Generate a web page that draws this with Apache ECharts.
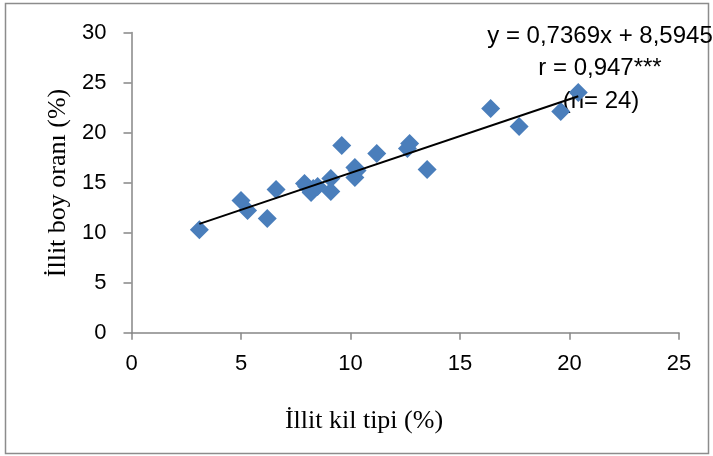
<!DOCTYPE html>
<html>
<head>
<meta charset="utf-8">
<script src="https://cdn.jsdelivr.net/npm/echarts@6/dist/echarts.min.js"></script>
<style>
  html, body { margin: 0; padding: 0; background: #fff; }
  #chart { width: 713px; height: 456px; }
</style>
</head>
<body>
<div id="chart"></div>
<script>
// İllit kil tipi (%) vs İllit boy oranı (%)
const illitKil = [3.1, 5.0, 5.3, 6.2, 6.6, 7.9, 8.0, 8.2, 8.3, 8.5, 9.1, 9.1, 9.6, 10.2, 10.2, 10.3, 11.2, 12.6, 12.7, 13.5, 16.4, 17.7, 19.6, 20.4];
const illitBoy = [10.3, 13.2, 12.2, 11.4, 14.3, 14.9, 14.6, 14.0, 14.4, 14.6, 15.4, 14.1, 18.7, 16.5, 15.5, 16.2, 17.9, 18.4, 18.9, 16.3, 22.4, 20.6, 22.1, 24.0];

// Linear trend: y = 0,7369x + 8,5945
const slope = 0.7369;
const intercept = 8.5945;
const statLines = ['y = 0,7369x + 8,5945', 'r = 0,947***', '(n= 24)'];

const xTicks = [0, 5, 10, 15, 20, 25];
const yTicks = [0, 5, 10, 15, 20, 25, 30];

const points = illitKil.map((x, i) => [x, illitBoy[i]]);
const xMin = Math.min(...illitKil);
const xMax = Math.max(...illitKil);
const trend = [[xMin, slope * xMin + intercept], [xMax, slope * xMax + intercept]];

const axisGrey = '#868686';
const sansFont = '"Liberation Sans Narrow", "Liberation Sans", sans-serif';
const chart = echarts.init(document.getElementById('chart'), null, { renderer: 'canvas' });

chart.setOption({
  backgroundColor: '#ffffff',
  animation: false,
  grid: { left: 131.5, right: 34, top: 32.5, bottom: 123.3, containLabel: false },
  xAxis: {
    type: 'value',
    min: xTicks[0],
    max: xTicks[xTicks.length - 1],
    interval: 5,
    axisLine: { show: true, onZero: false, lineStyle: { color: axisGrey, width: 1.5 } },
    axisTick: { show: true, inside: false, length: 7, lineStyle: { color: axisGrey, width: 1.5 } },
    splitLine: { show: false },
    axisLabel: { margin: 20, fontFamily: sansFont, fontSize: 22, color: '#000' }
  },
  yAxis: {
    type: 'value',
    min: yTicks[0],
    max: yTicks[yTicks.length - 1],
    interval: 5,
    axisLine: { show: true, onZero: false, lineStyle: { color: axisGrey, width: 1.5 } },
    axisTick: { show: true, inside: false, length: 8, lineStyle: { color: axisGrey, width: 1.5 } },
    splitLine: { show: false },
    axisLabel: { margin: 25, fontFamily: sansFont, fontSize: 22, color: '#000' }
  },
  series: [
    {
      type: 'scatter',
      data: points,
      symbol: 'diamond',
      symbolSize: [19, 19],
      itemStyle: { color: '#4A7EBB', opacity: 1 },
      z: 2
    },
    {
      type: 'line',
      data: trend,
      symbol: 'none',
      lineStyle: { color: '#000', width: 2 },
      z: 3
    }
  ],
  graphic: [
    {
      type: 'rect',
      shape: { x: 5.5, y: 3.5, width: 703, height: 450 },
      style: { fill: 'none', stroke: '#8c8c8c', lineWidth: 1.5 },
      silent: true
    },
    {
      type: 'text',
      x: 600, y: 36,
      style: {
        text: statLines[0], textAlign: 'center', textVerticalAlign: 'middle',
        fontFamily: sansFont, fontSize: 24, fill: '#000'
      }
    },
    {
      type: 'text',
      x: 600, y: 68,
      style: {
        text: statLines[1], textAlign: 'center', textVerticalAlign: 'middle',
        fontFamily: sansFont, fontSize: 24, fill: '#000'
      }
    },
    {
      type: 'text',
      x: 601, y: 101,
      style: {
        text: statLines[2], textAlign: 'center', textVerticalAlign: 'middle',
        fontFamily: sansFont, fontSize: 24, fill: '#000'
      }
    },
    {
      type: 'text',
      x: 364, y: 421,
      style: {
        text: 'İllit kil tipi (%)', textAlign: 'center', textVerticalAlign: 'middle',
        fontFamily: 'Liberation Serif', fontSize: 26, fill: '#000'
      }
    },
    {
      type: 'text',
      x: 58, y: 183,
      rotation: Math.PI / 2,
      style: {
        text: 'İllit boy oranı (%)', textAlign: 'center', textVerticalAlign: 'middle',
        fontFamily: 'Liberation Serif', fontSize: 26, fill: '#000'
      }
    }
  ]
});
</script>
</body>
</html>
